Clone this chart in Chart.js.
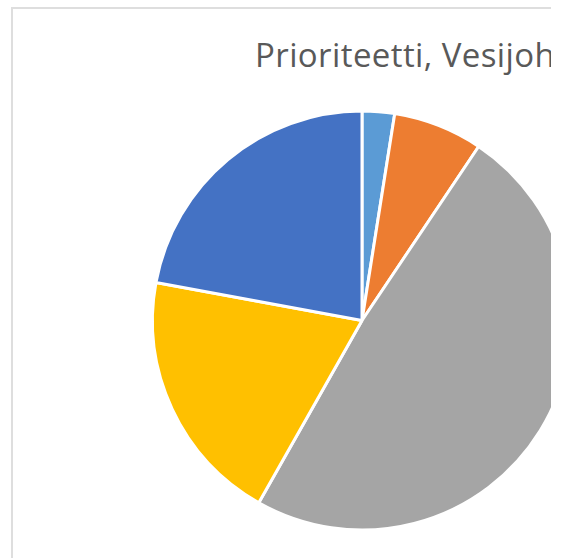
<!DOCTYPE html>
<html>
<head>
<meta charset="utf-8">
<script src="https://cdn.jsdelivr.net/npm/chart.js@4"></script>
<style>
  html, body { margin: 0; padding: 0; background: #fff; }
  #clip { position: absolute; left: 0; top: 0; width: 551px; height: 558px; overflow: hidden; }
  #frame { position: absolute; left: 11px; top: 7px; width: 800px; height: 620px; border: 2px solid #dedede; background: #fff; }
  #title { position: absolute; left: 242px; top: 30px; white-space: nowrap; letter-spacing: 0.4px;
           font-family: "Open Sans", sans-serif; font-size: 33px; line-height: 32px; color: #595959; }
  #wrap { position: absolute; left: 0; top: 0; width: 760px; height: 560px; }
</style>
</head>
<body>
<div id="clip">
  <div id="frame">
    <div id="title">Prioriteetti, Vesijohto</div>
    <div id="wrap"><canvas id="pie"></canvas></div>
  </div>
</div>
<script>
// slice values (share of the whole, %)
const categories = ['1', '2', '3', '4', '5'];
const shares = [2.5, 6.9, 48.8, 19.7, 22.1];
const sliceColors = ['#5b9bd5', '#ed7d31', '#a5a5a5', '#ffc000', '#4472c4'];

document.addEventListener('DOMContentLoaded', () => {
  const ctx = document.getElementById('pie').getContext('2d');
  new Chart(ctx, {
    type: 'pie',
    data: {
      labels: categories,
      datasets: [{
        data: shares,
        backgroundColor: sliceColors,
        borderColor: '#ffffff',
        borderWidth: 3
      }]
    },
    options: {
      responsive: true,
      maintainAspectRatio: false,
      animation: false,
      layout: { padding: { left: 138, right: 200, top: 100, bottom: 37 } },
      plugins: {
        legend: { display: false },
        tooltip: { enabled: false },
        title: { display: false }
      }
    }
  });
});
</script>
</body>
</html>
